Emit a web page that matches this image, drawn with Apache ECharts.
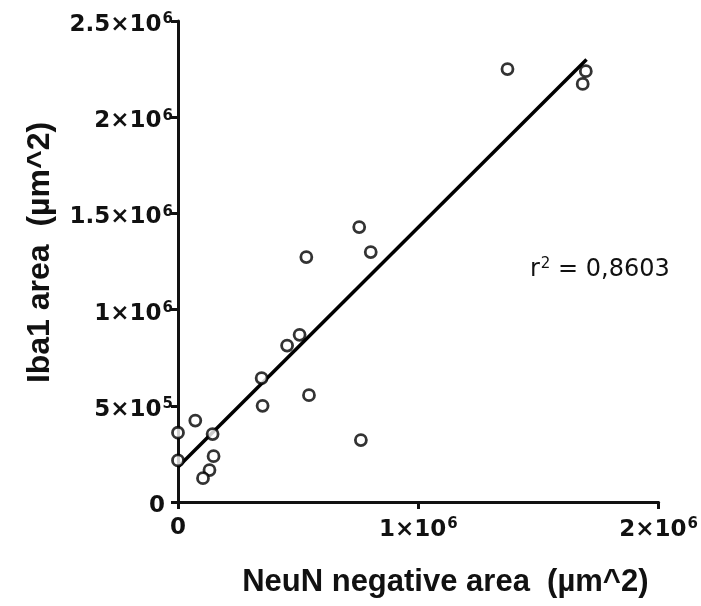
<!DOCTYPE html>
<html>
<head>
<meta charset="utf-8">
<script src="https://cdn.jsdelivr.net/npm/echarts@6/dist/echarts.min.js"></script>
<style>
    html, body { margin: 0; padding: 0; background: #fff; }
    #container { width: 701px; height: 606px; }
</style>
</head>
<body>
<div id="container"></div>
<script>
    // NeuN negative area (x) vs Iba1 area (y), um^2
    var neunArea = [0, 0, 72000, 144000, 148000, 131000, 104000, 352000, 348000, 454000,
        506000, 534000, 545000, 754000, 802000, 761000, 1371000, 1697000, 1684000];
    var iba1Area = [360000, 216000, 423000, 353000, 238000, 166000, 124000, 500000, 644000, 813000,
        869000, 1273000, 555000, 1429000, 1299000, 322000, 2250000, 2239000, 2173000];
    // regression line end points
    var fitX = [0, 1700000];
    var fitY = [182000, 2300000];
    var xTicks = { 0: '{b|0}', 1000000: '{b|1×10}{s|6}', 2000000: '{b|2×10}{s|6}' };
    var yTicks = {
        0: '{z|0}', 500000: '{b|5×10}{s|5}', 1000000: '{b|1×10}{s|6}',
        1500000: '{b|1.5×10}{s|6}', 2000000: '{b|2×10}{s|6}', 2500000: '{b|2.5×10}{s|6}'
    };
    var rSquared = '0,8603';

    var points = [];
    for (var i = 0; i < neunArea.length; i++) {
        points.push([neunArea[i], iba1Area[i]]);
    }
    var fitLine = [];
    for (var j = 0; j < fitX.length; j++) {
        fitLine.push([fitX[j], fitY[j]]);
    }

    var font = '"Liberation Sans", Arial, sans-serif';
    var tickFont = '"DejaVu Sans", sans-serif';
    var labelRich = {
        b: { fontFamily: tickFont, fontWeight: 'bold', fontSize: 23, color: '#111' },
        z: { fontFamily: tickFont, fontWeight: 'bold', fontSize: 23, color: '#111', padding: [0, 8, 0, 0] },
        s: { fontFamily: tickFont, fontWeight: 'bold', fontSize: 15, color: '#111', padding: [0, 0, 11, 1] }
    };
    var axisLine = { lineStyle: { color: '#111', width: 3 } };
    var axisTick = { length: 7, lineStyle: { color: '#111', width: 3 } };

    var chart = echarts.init(document.getElementById('container'));
    chart.setOption({
        animation: false,
        grid: { left: 178, right: 40, top: 21, bottom: 104 },
        xAxis: {
            type: 'value',
            min: 0, max: 2000000, interval: 1000000,
            name: 'NeuN negative area  (µm^2)',
            nameLocation: 'middle',
            nameGap: 65,
            nameTextStyle: { fontFamily: font, fontWeight: 'bold', fontSize: 31, color: '#111', padding: [0, 0, 0, 54] },
            axisLine: axisLine,
            axisTick: axisTick,
            splitLine: { show: false },
            axisLabel: {
                margin: 15,
                formatter: function (v) { return xTicks[v] || ''; },
                rich: labelRich
            }
        },
        yAxis: {
            type: 'value',
            min: 0, max: 2500000, interval: 500000,
            name: 'Iba1 area  (µm^2)',
            nameLocation: 'middle',
            nameGap: 122,
            nameTextStyle: { fontFamily: font, fontWeight: 'bold', fontSize: 32, color: '#111', padding: [0, 0, 0, 18] },
            axisLine: axisLine,
            axisTick: axisTick,
            splitLine: { show: false },
            axisLabel: {
                margin: 5,
                padding: [8, 0, 0, 0],
                formatter: function (v) { return yTicks[v] || ''; },
                rich: labelRich
            }
        },
        series: [
            {
                type: 'line',
                data: fitLine,
                symbol: 'none',
                lineStyle: { color: '#000', width: 3.5 },
                z: 2
            },
            {
                type: 'scatter',
                data: points,
                symbol: 'circle',
                symbolSize: 11,
                itemStyle: { color: '#fff', borderColor: '#000', borderWidth: 2.8 },
                z: 3
            }
        ],
        graphic: [{
            type: 'text',
            left: 530,
            top: 257,
            style: {
                text: '{t|r}{s|2}{t| = ' + rSquared + '}',
                rich: {
                    t: { fontFamily: '"DejaVu Sans", sans-serif', fontSize: 24, fill: '#111', color: '#111' },
                    s: { fontFamily: '"DejaVu Sans", sans-serif', fontSize: 15, fill: '#111', color: '#111', padding: [0, 0, 10, 1] }
                }
            }
        }]
    });
</script>
</body>
</html>
